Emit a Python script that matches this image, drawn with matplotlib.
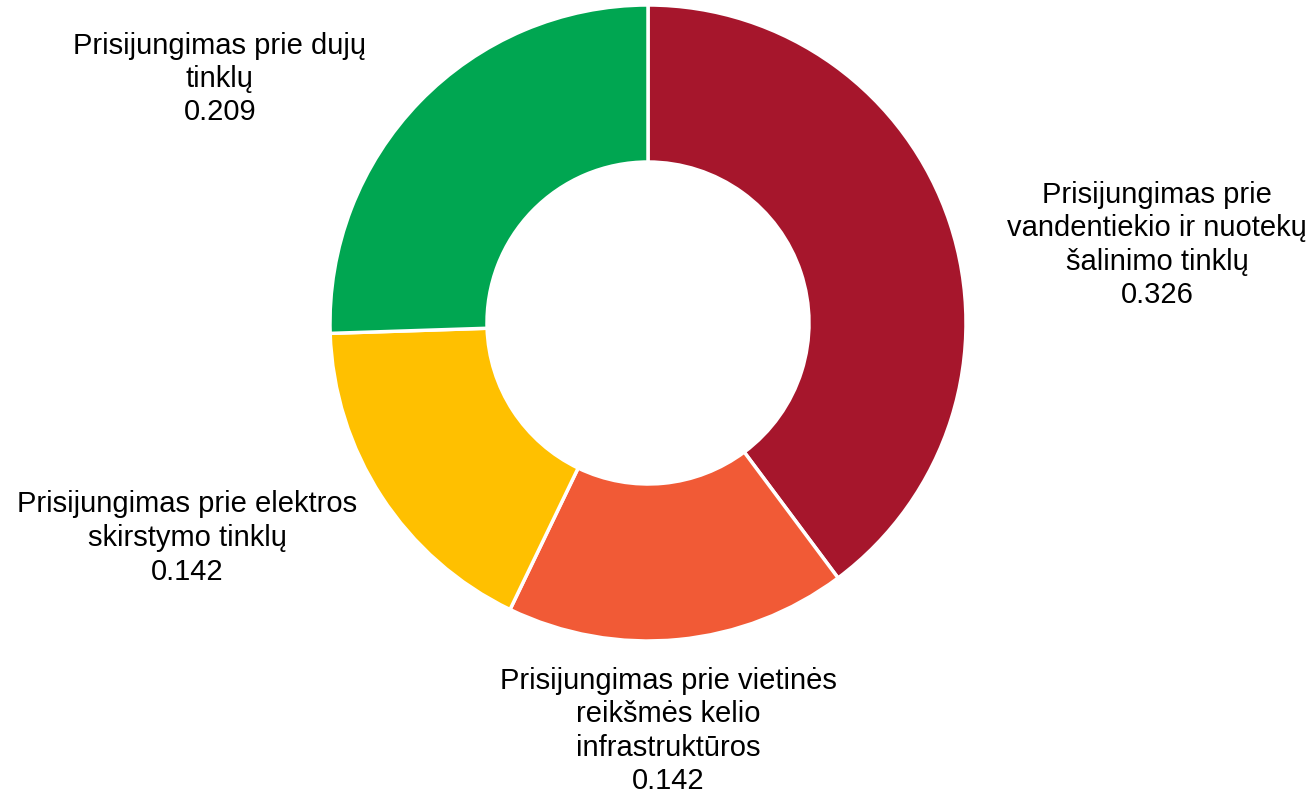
import matplotlib.pyplot as plt

plt.rcParams['font.family'] = ['Liberation Sans', 'DejaVu Sans']

# Data
labels = [
    "Prisijungimas prie\nvandentiekio ir nuotekų\nšalinimo tinklų",
    "Prisijungimas prie vietinės\nreikšmės kelio\ninfrastruktūros",
    "Prisijungimas prie elektros\nskirstymo tinklų",
    "Prisijungimas prie dujų\ntinklų",
]
values = [0.326, 0.142, 0.142, 0.209]
colors = ["#A6162C", "#F15A36", "#FFC000", "#00A651"]

# label anchor points in pixels (x, y from top)
label_pos = [(1157, 245), (668, 731), (187, 538), (220, 79)]

W, H = 1314, 794
fig = plt.figure(figsize=(W / 100, H / 100), dpi=100)
ax = fig.add_axes([0, 0, 1, 1])

cx, cy, r = 648, H - 323, 318
ax.pie(values, colors=colors, startangle=90, counterclock=False,
       center=(cx, cy), radius=r,
       wedgeprops=dict(width=157, edgecolor="white", linewidth=2.5))

for lab, v, (px, py) in zip(labels, values, label_pos):
    ax.text(px, H - py, f"{lab}\n{v:.3f}", ha="center", va="center",
            multialignment="center", fontsize=21, linespacing=1.25,
            color="#000000")

ax.set_xlim(0, W)
ax.set_ylim(0, H)
ax.set_aspect("equal")
ax.axis("off")

fig.savefig("out.png", dpi=100)
